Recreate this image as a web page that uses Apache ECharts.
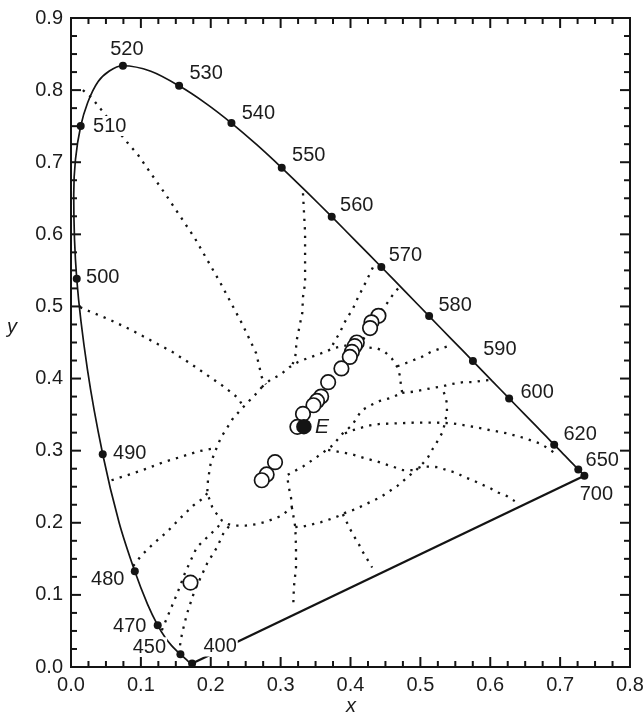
<!DOCTYPE html>
<html>
<head>
<meta charset="utf-8">
<script src="https://cdn.jsdelivr.net/npm/echarts@6/dist/echarts.min.js"></script>
<style>
  html, body { margin: 0; padding: 0; background: #fff; }
  #chart { width: 644px; height: 717px; }
</style>
</head>
<body>
<div id="chart"></div>
<script>
// CIE 1931 spectral locus, 400–700 nm in 5 nm steps
const wavelengths = [400, 405, 410, 415, 420, 425, 430, 435, 440, 445, 450, 455, 460, 465, 470, 475,
  480, 485, 490, 495, 500, 505, 510, 515, 520, 525, 530, 535, 540, 545, 550, 555, 560, 565, 570,
  575, 580, 585, 590, 595, 600, 605, 610, 615, 620, 625, 630, 635, 640, 645, 650, 655, 660, 665,
  670, 675, 680, 685, 690, 695, 700];
const locusX = [0.1733, 0.1730, 0.1726, 0.1721, 0.1714, 0.1703, 0.1689, 0.1669, 0.1644, 0.1611,
  0.1566, 0.1510, 0.1440, 0.1355, 0.1241, 0.1096, 0.0913, 0.0687, 0.0454, 0.0235, 0.0082, 0.0039,
  0.0139, 0.0389, 0.0743, 0.1142, 0.1547, 0.1929, 0.2296, 0.2658, 0.3016, 0.3373, 0.3731, 0.4087,
  0.4441, 0.4788, 0.5125, 0.5448, 0.5752, 0.6029, 0.6270, 0.6482, 0.6658, 0.6801, 0.6915, 0.7006,
  0.7079, 0.7140, 0.7190, 0.7230, 0.7260, 0.7283, 0.7300, 0.7311, 0.7320, 0.7327, 0.7334, 0.7340,
  0.7344, 0.7346, 0.7347];
const locusY = [0.0048, 0.0048, 0.0048, 0.0048, 0.0051, 0.0058, 0.0069, 0.0086, 0.0109, 0.0138,
  0.0177, 0.0227, 0.0297, 0.0399, 0.0578, 0.0868, 0.1327, 0.2007, 0.2950, 0.4127, 0.5384, 0.6548,
  0.7502, 0.8120, 0.8338, 0.8262, 0.8059, 0.7816, 0.7543, 0.7243, 0.6923, 0.6589, 0.6245, 0.5896,
  0.5547, 0.5202, 0.4866, 0.4544, 0.4242, 0.3965, 0.3725, 0.3514, 0.3340, 0.3197, 0.3083, 0.2993,
  0.2920, 0.2859, 0.2809, 0.2770, 0.2740, 0.2717, 0.2700, 0.2689, 0.2680, 0.2673, 0.2666, 0.2660,
  0.2656, 0.2654, 0.2653];

// Wavelengths marked with a dot and a label on the locus
const markedWavelengths = [400, 450, 470, 480, 490, 500, 510, 520, 530, 540, 550, 560, 570, 580,
  590, 600, 620, 650, 700];

// Measured chromaticities (open circles)
const sampleX = [0.440, 0.430, 0.428, 0.409, 0.406, 0.402, 0.399, 0.387, 0.368, 0.358, 0.352,
  0.347, 0.332, 0.324, 0.292, 0.280, 0.273, 0.171];
const sampleY = [0.487, 0.478, 0.470, 0.450, 0.445, 0.437, 0.430, 0.414, 0.395, 0.375, 0.369,
  0.363, 0.351, 0.333, 0.284, 0.267, 0.259, 0.117];

// Equal-energy white point E
const whitePoint = [1 / 3, 1 / 3];

// Axis tick values (major); minor ticks split each step into four
const xTicks = [0, 0.1, 0.2, 0.3, 0.4, 0.5, 0.6, 0.7, 0.8];
const yTicks = [0, 0.1, 0.2, 0.3, 0.4, 0.5, 0.6, 0.7, 0.8, 0.9];

// Dotted grid: constant-chroma contours and constant-hue lines
const innerContour = [[0.273, 0.388], [0.285, 0.398], [0.299, 0.405], [0.313, 0.416], [0.325, 0.423],
  [0.338, 0.428], [0.364, 0.437], [0.375, 0.442], [0.395, 0.446], [0.414, 0.446], [0.425, 0.443],
  [0.438, 0.442], [0.449, 0.437], [0.459, 0.428], [0.467, 0.416], [0.471, 0.403], [0.472, 0.392],
  [0.474, 0.380], [0.457, 0.373], [0.442, 0.369], [0.431, 0.364], [0.416, 0.356], [0.402, 0.335],
  [0.389, 0.324], [0.374, 0.307], [0.353, 0.292], [0.332, 0.278], [0.309, 0.266], [0.312, 0.248],
  [0.315, 0.234], [0.316, 0.222], [0.302, 0.210], [0.289, 0.205], [0.278, 0.201], [0.265, 0.198],
  [0.250, 0.196], [0.235, 0.196], [0.225, 0.198], [0.216, 0.203], [0.208, 0.213], [0.202, 0.222],
  [0.195, 0.241], [0.196, 0.259], [0.200, 0.283], [0.208, 0.303], [0.215, 0.319], [0.223, 0.331],
  [0.232, 0.345], [0.246, 0.360], [0.263, 0.377], [0.273, 0.388]];
const outerContour = [[0.321, 0.194], [0.333, 0.195], [0.346, 0.198], [0.358, 0.201], [0.371, 0.205],
  [0.382, 0.209], [0.395, 0.215], [0.408, 0.219], [0.418, 0.224], [0.442, 0.235], [0.467, 0.251],
  [0.485, 0.266], [0.495, 0.274], [0.504, 0.283], [0.511, 0.291], [0.518, 0.303], [0.525, 0.314],
  [0.532, 0.326], [0.535, 0.338], [0.538, 0.352], [0.538, 0.366], [0.535, 0.377], [0.531, 0.388]];
const hue510 = [[0.017, 0.800], [0.030, 0.789], [0.039, 0.778], [0.080, 0.728], [0.096, 0.710],
  [0.137, 0.653], [0.177, 0.595], [0.213, 0.534], [0.246, 0.474], [0.265, 0.435], [0.273, 0.402],
  [0.279, 0.392]];
const hue500 = [[0.013, 0.499], [0.027, 0.493], [0.057, 0.481], [0.087, 0.467], [0.116, 0.452],
  [0.145, 0.437], [0.172, 0.420], [0.199, 0.402], [0.220, 0.388], [0.239, 0.373], [0.246, 0.362]];
const hue555 = [[0.332, 0.657], [0.335, 0.602], [0.335, 0.532], [0.332, 0.513], [0.331, 0.491],
  [0.328, 0.477], [0.323, 0.453], [0.321, 0.430], [0.316, 0.417]];
const hue570 = [[0.432, 0.554], [0.421, 0.532], [0.409, 0.509], [0.404, 0.498], [0.391, 0.477],
  [0.385, 0.464], [0.378, 0.453], [0.372, 0.442]];
const hue575 = [[0.468, 0.525], [0.459, 0.514], [0.452, 0.504], [0.442, 0.492], [0.432, 0.477],
  [0.422, 0.461], [0.414, 0.446]];
const hue585 = [[0.467, 0.417], [0.478, 0.421], [0.489, 0.425], [0.504, 0.431], [0.515, 0.437],
  [0.527, 0.441], [0.540, 0.445]];
const hue595 = [[0.474, 0.380], [0.492, 0.382], [0.507, 0.385], [0.518, 0.387], [0.531, 0.389],
  [0.542, 0.392], [0.561, 0.395], [0.575, 0.395], [0.588, 0.397], [0.600, 0.398]];
const hue625 = [[0.392, 0.324], [0.402, 0.328], [0.416, 0.332], [0.428, 0.335], [0.442, 0.337],
  [0.468, 0.338], [0.495, 0.339], [0.521, 0.339], [0.545, 0.338], [0.571, 0.334], [0.597, 0.329],
  [0.624, 0.324], [0.647, 0.318], [0.671, 0.310], [0.683, 0.303], [0.696, 0.294]];
const huePurpleRed = [[0.368, 0.301], [0.385, 0.298], [0.402, 0.295], [0.419, 0.290], [0.438, 0.285],
  [0.457, 0.279], [0.475, 0.273], [0.489, 0.273], [0.502, 0.278], [0.514, 0.278], [0.525, 0.277],
  [0.538, 0.273], [0.552, 0.269], [0.564, 0.263], [0.575, 0.259], [0.588, 0.253], [0.600, 0.248],
  [0.611, 0.242], [0.624, 0.237], [0.635, 0.230]];
const huePurple = [[0.389, 0.212], [0.398, 0.194], [0.404, 0.183], [0.411, 0.172], [0.418, 0.159],
  [0.431, 0.138]];
const hueViolet = [[0.316, 0.222], [0.321, 0.194], [0.322, 0.166], [0.322, 0.138], [0.319, 0.111],
  [0.318, 0.083]];
const hue490 = [[0.058, 0.259], [0.084, 0.267], [0.108, 0.275], [0.132, 0.284], [0.156, 0.291],
  [0.182, 0.299], [0.203, 0.303]];
const hue480 = [[0.089, 0.140], [0.101, 0.155], [0.118, 0.171], [0.137, 0.187], [0.156, 0.206],
  [0.175, 0.224], [0.189, 0.234], [0.195, 0.241]];
const hue470 = [[0.130, 0.051], [0.139, 0.072], [0.152, 0.102], [0.163, 0.130], [0.180, 0.166],
  [0.195, 0.180], [0.210, 0.194], [0.216, 0.202]];
const hue460 = [[0.156, 0.030], [0.159, 0.047], [0.166, 0.074], [0.177, 0.106], [0.195, 0.144],
  [0.209, 0.166], [0.218, 0.185], [0.226, 0.195]];

const dottedLines = [innerContour, outerContour, hue510, hue500, hue555, hue570, hue575, hue585,
  hue595, hue625, huePurpleRed, huePurple, hueViolet, hue490, hue480, hue470, hue460];

// Label placement around each marked wavelength (centre offset from the dot, px)
const labelOffsets = {
  400: [28, -17], 450: [-31, -7], 470: [-28, 1], 480: [-27, 8], 490: [27, -1], 500: [26, -1],
  510: [29, 0], 520: [4, -16], 530: [27, -12], 540: [27, -10], 550: [27, -12], 560: [25, -11],
  570: [24, -12], 580: [26, -11], 590: [27, -12], 600: [28, -6], 620: [26, -10], 650: [24, -9],
  700: [12, 19]
};

const FONT = "'Liberation Sans', Arial, Helvetica, sans-serif";
const INK = '#141414';
const TEXT = '#1c1c1c';
const X_MIN = xTicks[0], X_MAX = xTicks[xTicks.length - 1];
const Y_MIN = yTicks[0], Y_MAX = yTicks[yTicks.length - 1];

const locusPoints = wavelengths.map((w, i) => [locusX[i], locusY[i]]);
const last = wavelengths.length - 1;

const series = [];

dottedLines.forEach(pts => {
  series.push({
    type: 'line', data: pts, symbol: 'none', silent: true, z: 2,
    lineStyle: { color: INK, width: 2.3, type: [2.3, 6.2], cap: 'butt' }
  });
});

// spectral locus
series.push({
  type: 'line', data: locusPoints, symbol: 'none', smooth: 0.3, silent: true, z: 3,
  lineStyle: { color: INK, width: 1.7 }
});
// line of purples
series.push({
  type: 'line', data: [locusPoints[0], locusPoints[last]], symbol: 'none', silent: true, z: 3,
  lineStyle: { color: INK, width: 2.3 }
});

// samples
series.push({
  type: 'scatter', silent: true, z: 4, symbol: 'circle', symbolSize: 14.5,
  data: sampleX.map((x, i) => [x, sampleY[i]]),
  itemStyle: { color: '#fff', borderColor: INK, borderWidth: 1.7, opacity: 1 }
});

// white point E
series.push({
  type: 'scatter', silent: true, z: 5, symbol: 'circle', symbolSize: 15.5,
  data: [{ name: 'E', value: whitePoint }],
  itemStyle: { color: INK, opacity: 1 },
  label: {
    show: true, position: 'inside', offset: [18, 1], formatter: '{b}',
    fontFamily: FONT, fontSize: 21, fontStyle: 'italic', color: TEXT,
    textBorderWidth: 0
  }
});

// wavelength dots and labels
series.push({
  type: 'scatter', silent: true, z: 6, symbol: 'circle', symbolSize: 8,
  itemStyle: { color: INK, opacity: 1 },
  label: {
    show: true, position: 'inside', formatter: '{b}', fontFamily: FONT, fontSize: 20,
    color: TEXT, backgroundColor: '#fff', padding: [0, 1], textBorderWidth: 0
  },
  data: markedWavelengths.map(w => {
    const i = wavelengths.indexOf(w);
    return { name: String(w), value: [locusX[i], locusY[i]], label: { offset: labelOffsets[w] } };
  })
});

// Inward tick marks on all four sides of the frame: [side, value, length]
// side 0 = bottom, 1 = top, 2 = left, 3 = right
const tickMarks = [];
function addTicks(values, sideA, sideB) {
  values.forEach((v, i) => {
    tickMarks.push([sideA, v, 10], [sideB, v, 10]);
    if (i < values.length - 1) {
      const step = (values[i + 1] - v) / 4;
      for (let k = 1; k < 4; k++) tickMarks.push([sideA, v + step * k, 6], [sideB, v + step * k, 6]);
    }
  });
}
addTicks(xTicks, 0, 1);
addTicks(yTicks, 2, 3);

series.push({
  type: 'custom', silent: true, z: 7, clip: false,
  data: tickMarks,
  renderItem: function (params, api) {
    const side = api.value(0), v = api.value(1), len = api.value(2);
    let p, q;
    if (side === 0) { p = api.coord([v, Y_MIN]); q = [p[0], p[1] - len]; }
    else if (side === 1) { p = api.coord([v, Y_MAX]); q = [p[0], p[1] + len]; }
    else if (side === 2) { p = api.coord([X_MIN, v]); q = [p[0] + len, p[1]]; }
    else { p = api.coord([X_MAX, v]); q = [p[0] - len, p[1]]; }
    return {
      type: 'line',
      shape: { x1: p[0], y1: p[1], x2: q[0], y2: q[1] },
      style: { stroke: INK, lineWidth: 2 }
    };
  }
});

function tickLabel() {
  return {
    show: true, fontFamily: FONT, fontSize: 20, color: TEXT, margin: 8,
    formatter: v => v.toFixed(1)
  };
}
// italic axis titles
function axisTitle(text, x, y) {
  return {
    type: 'text', silent: true, z: 10,
    style: {
      text: text, x: x, y: y, align: 'center', verticalAlign: 'middle',
      font: 'italic 20px ' + FONT, fill: TEXT
    }
  };
}

const chart = echarts.init(document.getElementById('chart'), null, { renderer: 'canvas' });
chart.setOption({
  animation: false,
  backgroundColor: '#fff',
  grid: {
    left: 71, right: 14, top: 18, bottom: 50, outerBoundsMode: 'none',
    show: true, borderColor: INK, borderWidth: 2, backgroundColor: 'transparent'
  },
  xAxis: {
    type: 'value', min: X_MIN, max: X_MAX, interval: 0.1,
    axisLine: { show: false }, axisTick: { show: false }, splitLine: { show: false },
    axisLabel: tickLabel()
  },
  yAxis: {
    type: 'value', min: Y_MIN, max: Y_MAX, interval: 0.1,
    axisLine: { show: false }, axisTick: { show: false }, splitLine: { show: false },
    axisLabel: tickLabel()
  },
  graphic: [axisTitle('x', 351, 706), axisTitle('y', 12, 327)],
  series: series
});
</script>
</body>
</html>
